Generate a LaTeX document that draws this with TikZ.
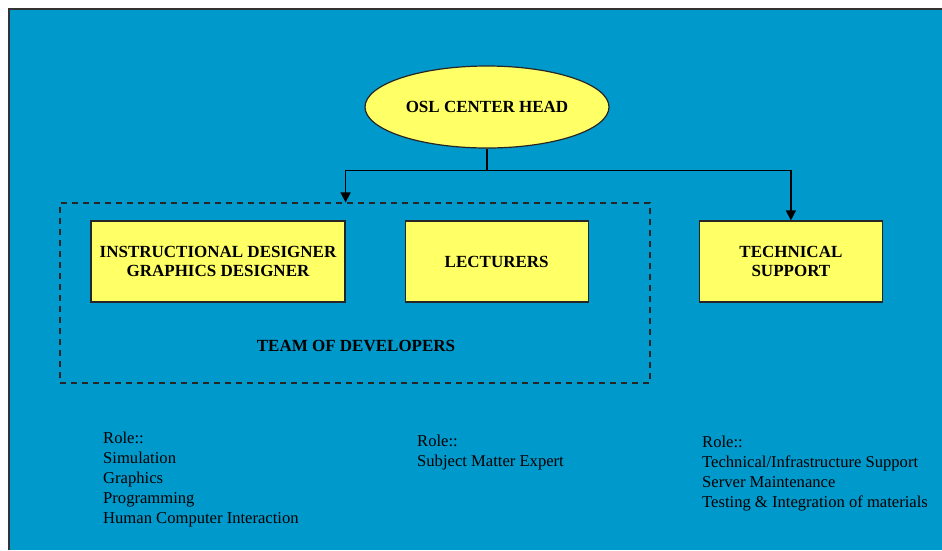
\documentclass[tikz,border=0pt]{standalone}
\usepackage{fontspec}
\setmainfont{Liberation Serif}
\usepackage{tikz}
\usetikzlibrary{arrows.meta,positioning,shapes.geometric}
\definecolor{oslblue}{rgb}{0.00,0.60,0.80}
\definecolor{oslyellow}{rgb}{1.00,1.00,0.40}

\begin{document}
\begin{tikzpicture}[x=1pt,y=-1pt,node distance=60pt and 60pt,
    every node/.style={font=\fontsize{17}{19.5}\selectfont\bfseries},
    unit/.style={draw=black!85,fill=oslyellow,line width=1.2pt,minimum width=183pt,
                 minimum height=81pt,inner sep=0pt,align=center},
    role/.style={font=\fontsize{16.6}{20}\selectfont,align=left,inner sep=0pt,anchor=north west},
    link/.style={-{Triangle[width=10pt,length=10pt]},line width=1.4pt}]
  \useasboundingbox (0,0) rectangle (942,550);
  \fill[white] (0,0) rectangle (942,550);
  \fill[oslblue] (9,9) rectangle (942,550);
  \draw[black!80,line width=2pt] (9,550) -- (9,9) -- (942,9);
  \node[ellipse,draw=black!85,fill=oslyellow,line width=1.2pt,minimum width=244pt,
        minimum height=82pt,inner sep=0pt] (head) at (487,107) {OSL CENTER HEAD};
  \node[unit,minimum width=254pt] (design) at (218,261.5) {INSTRUCTIONAL DESIGNER\\GRAPHICS DESIGNER};
  \node[unit,right=59pt of design] (lect) {LECTURERS};
  \node[unit,right=110pt of lect] (tech) {TECHNICAL\\SUPPORT};
  \node[draw=black!85,dashed,dash pattern=on 6pt off 5pt,line width=1.2pt,minimum width=590pt,
        minimum height=180pt,inner sep=0pt] (team) at (355,293) {};
  \node (teamlabel) at (356,346) {TEAM OF DEVELOPERS};
  \draw[link] (head.south) -- ++(0,22) -| (design.east |- team.north);
  \draw[link] (head.south) -- ++(0,22) -| (tech.north);
  \node[role] (roledesign) at (103,432) {Role::\\Simulation\\Graphics\\Programming\\Human Computer Interaction};
  \node[role] (rolelect) at (417,435) {Role::\\Subject Matter Expert};
  \node[role] (roletech) at (702,436) {Role::\\Technical/Infrastructure Support\\Server Maintenance\\Testing \& Integration of materials};
\end{tikzpicture}
\end{document}
